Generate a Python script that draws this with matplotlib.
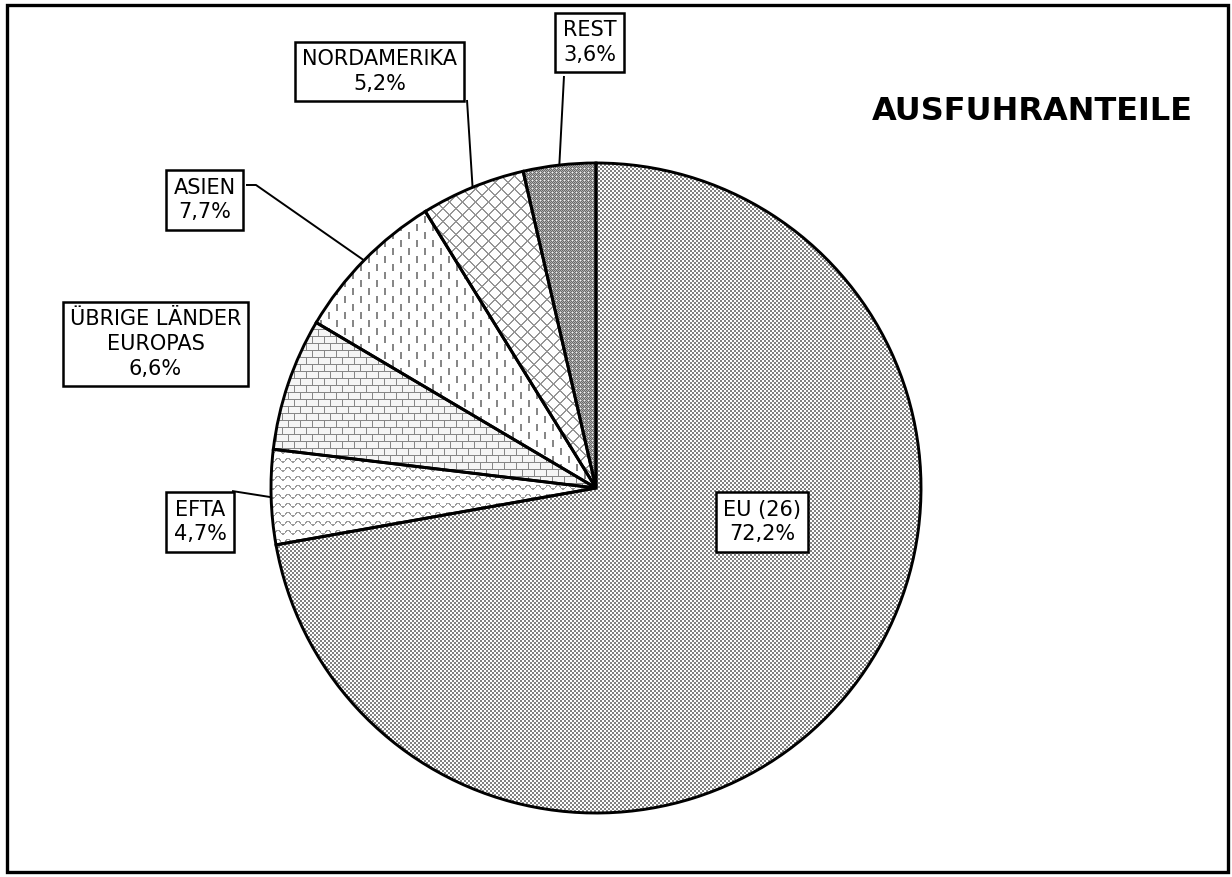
import numpy as np
import matplotlib
matplotlib.use("Agg")
import matplotlib.pyplot as plt
from matplotlib.patches import Rectangle

# Ausfuhranteile nach Regionen (in %)
labels = ["EU (26)", "EFTA", "ÜBRIGE LÄNDER\nEUROPAS", "ASIEN", "NORDAMERIKA", "REST"]
shares = [72.2, 4.7, 6.6, 7.7, 5.2, 3.6]
share_text = ["72,2%", "4,7%", "6,6%", "7,7%", "5,2%", "3,6%"]
title = "AUSFUHRANTEILE"

W, H = 1232, 877

def py(y):
    # pixel row (from top) -> data y
    return H - y

# --- fill textures (grey patterns like the old Excel print fills) ---
yy, xx = np.mgrid[0:H, 0:W]

def tex_checker():
    return np.where(((xx // 2) + (yy // 2)) % 2 == 0, 130, 255)

def tex_dense():
    t = np.where((xx + yy) % 2 == 0, 105, 175)
    t[(xx % 4 == 0) & (yy % 4 == 0)] = 245
    return t

def tex_diamond():
    t = np.full((H, W), 255)
    p = 13
    t[((xx + yy) % p < 2) | ((xx - yy) % p < 2)] = 150
    return t

def tex_dashes():
    t = np.full((H, W), 255)
    col = xx // 8
    on = (xx % 8 < 2) & (((yy + (col % 2) * 8) % 16) < 7)
    t[on] = 135
    return t

def tex_brick():
    t = np.full((H, W), 245)
    row = yy // 7
    t[yy % 7 == 0] = 135
    t[((xx + (row % 2) * 6) % 12 == 0)] = 135
    return t

def tex_waves():
    t = np.full((H, W), 255)
    d = (yy - 1.8 * np.sin(2 * np.pi * xx / 10.0)) % 9
    t[d < 1.5] = 155
    return t

textures = [tex_checker(), tex_waves(), tex_brick(), tex_dashes(), tex_diamond(), tex_dense()]

fig = plt.figure(figsize=(W / 100, H / 100), dpi=100)
ax = fig.add_axes([0, 0, 1, 1])

cx, cy, R = 596, py(488), 325
wedges, _ = ax.pie(shares, startangle=90, counterclock=False,
                   center=(cx, cy), radius=R,
                   wedgeprops=dict(facecolor="none", edgecolor="black", linewidth=2.1, zorder=3))

for w, t in zip(wedges, textures):
    im = ax.imshow(t, cmap="gray", vmin=0, vmax=255, extent=(0, W, 0, H),
                   origin="upper", interpolation="nearest", zorder=1)
    im.set_clip_path(w)

ax.set_xlim(0, W)
ax.set_ylim(0, H)
ax.set_aspect("equal")
ax.axis("off")

def edge_point(w):
    a = np.deg2rad((w.theta1 + w.theta2) / 2)
    return w.center[0] + w.r * np.cos(a), w.center[1] + w.r * np.sin(a)

# label box centres (pixels from top-left)
label_pos = [(762, 522), (200, 522), (155.5, 344), (204.5, 200), (379.5, 71.5), (589.5, 42.5)]
for lab, st, (lx, ly) in zip(labels, share_text, label_pos):
    ax.text(lx, py(ly), lab + "\n" + st, ha="center", va="center", multialignment="center",
            fontsize=15, family="DejaVu Sans", linespacing=1.3, zorder=5,
            bbox=dict(boxstyle="square,pad=0.35", facecolor="white", edgecolor="black", linewidth=1.8))

# leader lines: from label box to the middle of the wedge edge
leaders = {1: [(232, 491)], 3: [(246, 185), (256, 185)], 4: [(467, 100)], 5: [(564, 76)]}
for i, pts in leaders.items():
    ex, ey = edge_point(wedges[i])
    xs = [p[0] for p in pts] + [ex]
    ys = [py(p[1]) for p in pts] + [ey]
    ax.plot(xs, ys, color="black", linewidth=1.4, zorder=4, solid_capstyle="butt")

ax.text(1193, py(112), title, ha="right", va="center", fontsize=23,
        fontweight="bold", family="DejaVu Sans", zorder=5)

# outer frame
ax.add_patch(Rectangle((7, py(872)), 1221, 867, facecolor="none", edgecolor="black",
                       linewidth=2.4, zorder=6, clip_on=False))

fig.savefig("out.png", dpi=100, facecolor="white")
